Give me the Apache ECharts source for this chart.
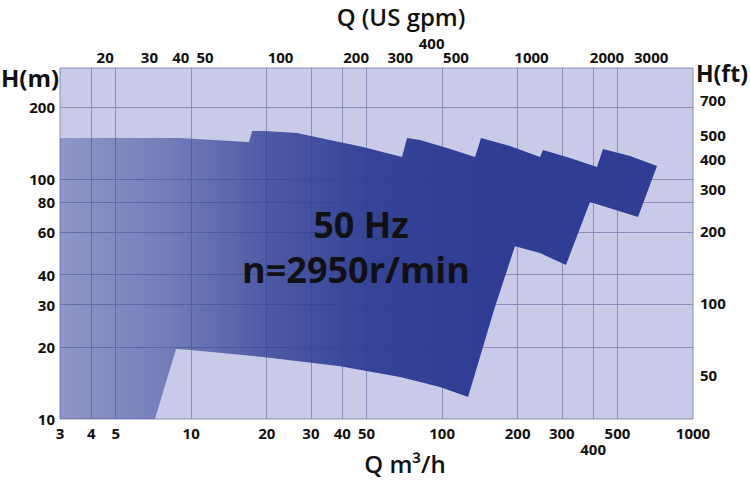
<!DOCTYPE html>
<html>
<head>
<meta charset="utf-8">
<script src="https://cdn.jsdelivr.net/npm/echarts@6/dist/echarts.min.js"></script>
<style>html,body{margin:0;padding:0;background:#fff;}#c{width:750px;height:480px;}</style>
</head>
<body>
<div id="c"></div>
<script>
// ---- data (m3/h, m) ----
const qMin = 3, qMax = 1000;          // m3/h axis range
const hMin = 10, hMax = 291;          // m axis range
const M3H_TO_GPM = 4.403;
const M_TO_FT = 1 / 0.3048;

const bottomLabels = [3, 4, 5, 10, 20, 30, 40, 50, 100, 200, 300, 500, 1000];
const bottomLabelsLow = [400];
const xGridValues = [4, 5, 10, 20, 30, 40, 50, 100, 200, 300, 400, 500];
const topLabels = [20, 30, 40, 50, 100, 200, 300, 500, 1000, 2000, 3000];
const topLabelsHigh = [400];
const leftLabels = [10, 20, 30, 40, 60, 80, 100, 200];
const yGridValues = [20, 30, 40, 60, 80, 100, 200];
const rightLabels = [50, 100, 200, 300, 400, 500, 700];

// outline of the pump coverage envelope (Q m3/h, H m)
const envelopeQ = [3, 9, 14.3, 17.0, 17.5, 19.7, 26.4, 35.7, 48.4, 69.2,
  72.5, 81.6, 104.6, 135.3, 142.9, 186.4, 245.6, 252.5, 323.4, 414.4,
  437.8, 561, 718.6, 603.6, 388.6, 311.7, 245.6, 195.2, 161,
  126.9, 98.1, 68.0, 39.2, 19.7, 9.9, 8.7, 7.17, 3];
const envelopeH = [148.5, 148.5, 144.3, 143, 158.9, 158.9, 155.8, 145.7, 136.2, 123.7,
  148.5, 145.7, 134.9, 123.7, 148.5, 137.5, 123.7, 132.3, 122.6, 112.4,
  133.6, 125.0, 113.5, 69.6, 80.3, 43.9, 49.2, 52.6, 28.5,
  12.35, 13.6, 14.96, 16.6, 18.1, 19.4, 19.6, 10, 10];

const L = Math.log10;
const fmt = v => String(Math.round(Math.pow(10, v)));
const labelFont = { fontFamily: 'Open Sans', fontWeight: 'bold', fontSize: 15, color: '#111' };

const chart = echarts.init(document.getElementById('c'), null, { renderer: 'svg' });

function xAxisBase(extra) {
  return Object.assign({
    type: 'value', gridIndex: 0,
    axisLine: { show: false }, axisTick: { show: false }, splitLine: { show: false }
  }, extra);
}

const option = {
  animation: false,
  backgroundColor: '#ffffff',
  grid: { left: 60, right: 57, top: 68, bottom: 61, show: true,
    backgroundColor: '#c8cae7', borderColor: '#8a8eb8', borderWidth: 1 },
  xAxis: [
    xAxisBase({ position: 'bottom', min: L(qMin), max: L(qMax),
      axisLabel: Object.assign({ customValues: bottomLabels.map(L), formatter: fmt, margin: 6 }, labelFont),
      axisTick: { show: false, customValues: xGridValues.map(L) },
      splitLine: { show: true, lineStyle: { color: '#8a8eb8', width: 1 } } }),
    xAxisBase({ position: 'bottom', offset: 16, min: L(qMin), max: L(qMax),
      axisLabel: Object.assign({ customValues: bottomLabelsLow.map(L), formatter: fmt, margin: 6 }, labelFont) }),
    xAxisBase({ position: 'top', min: L(qMin * M3H_TO_GPM), max: L(qMax * M3H_TO_GPM),
      axisLabel: Object.assign({ customValues: topLabels.map(L), formatter: fmt, margin: 4 }, labelFont) }),
    xAxisBase({ position: 'top', offset: 14, min: L(qMin * M3H_TO_GPM), max: L(qMax * M3H_TO_GPM),
      axisLabel: Object.assign({ customValues: topLabelsHigh.map(L), formatter: fmt, margin: 4 }, labelFont) })
  ],
  yAxis: [
    { type: 'value', position: 'left', min: L(hMin), max: L(hMax),
      axisLine: { show: false },
      axisTick: { show: false, customValues: yGridValues.map(L) },
      axisLabel: Object.assign({ customValues: leftLabels.map(L), formatter: fmt, margin: 5 }, labelFont),
      splitLine: { show: true, lineStyle: { color: '#8a8eb8', width: 1 } } },
    { type: 'value', position: 'right', min: L(hMin * M_TO_FT), max: L(hMax * M_TO_FT),
      axisLine: { show: false }, axisTick: { show: false }, splitLine: { show: false },
      axisLabel: Object.assign({ customValues: rightLabels.map(L), formatter: fmt, margin: 7 }, labelFont) }
  ],
  series: [{
    type: 'custom',
    xAxisIndex: 0, yAxisIndex: 0,
    clip: true,
    data: envelopeQ.map((q, i) => [L(q), L(envelopeH[i])]),
    renderItem: function (params, api) {
      if (params.dataIndex !== 0) return null;
      const pts = envelopeQ.map((q, i) => api.coord([L(q), L(envelopeH[i])]));
      const gx0 = api.coord([L(qMin), L(hMin)])[0];
      const gx1 = api.coord([L(140), L(hMin)])[0];
      return {
        type: 'polygon',
        shape: { points: pts },
        style: {
          fill: new echarts.graphic.LinearGradient(gx0, 0, gx1, 0, [
            { offset: 0, color: 'rgba(47,61,148,0.37)' },
            { offset: 0.25, color: 'rgba(47,61,148,0.54)' },
            { offset: 0.5, color: 'rgba(47,61,148,0.8)' },
            { offset: 0.75, color: 'rgba(47,61,148,0.96)' },
            { offset: 1, color: 'rgba(47,61,148,1)' }
          ], true)
        }
      };
    }
  }],
  graphic: [
    { type: 'text', x: 401, y: 16, style: { text: 'Q (US gpm)', align: 'center', verticalAlign: 'middle',
      font: '600 24px "Open Sans"', fill: '#111' } },
    { type: 'text', x: 405, y: 463, style: { text: 'Q m³/h', align: 'center', verticalAlign: 'middle',
      font: '600 24px "Open Sans"', fill: '#111' } },
    { type: 'text', x: 30, y: 77, style: { text: 'H(m)', align: 'center', verticalAlign: 'middle',
      font: 'bold 24px "Open Sans"', fill: '#111' } },
    { type: 'text', x: 722, y: 73, style: { text: 'H(ft)', align: 'center', verticalAlign: 'middle',
      font: 'bold 23px "Open Sans"', fill: '#111' } },
    { type: 'text', x: 361, y: 224, z: 100, style: { text: '50 Hz', align: 'center', verticalAlign: 'middle',
      font: 'bold 36px "Open Sans"', fill: '#111' } },
    { type: 'text', x: 356, y: 269, z: 100, style: { text: 'n=2950r/min', align: 'center', verticalAlign: 'middle',
      font: 'bold 36px "Open Sans"', fill: '#111' } }
  ]
};
chart.setOption(option);
</script>
</body>
</html>
